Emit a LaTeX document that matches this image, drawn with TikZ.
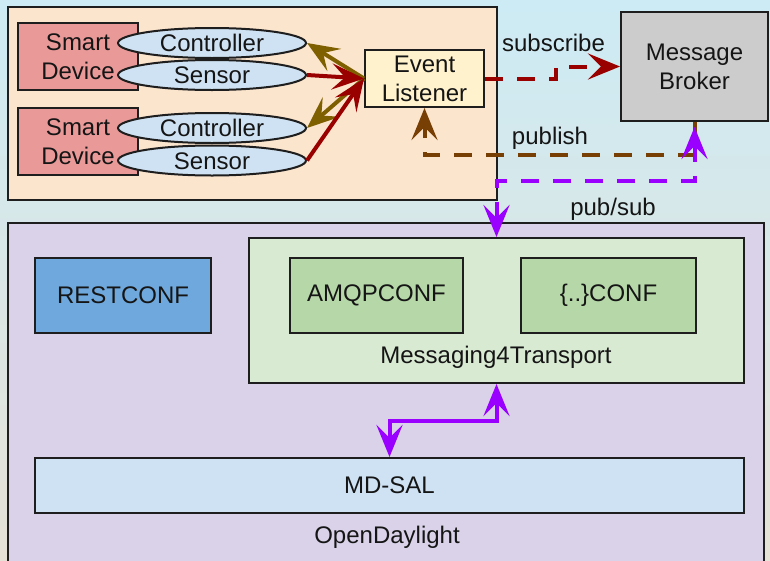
\documentclass[tikz,border=0pt]{standalone}
\usepackage{fontspec}
\setmainfont{Liberation Sans}
\usetikzlibrary{arrows.meta,shapes.geometric}
\definecolor{bgtop}{HTML}{CDEBF5}
\definecolor{bgbot}{HTML}{E6E2D6}
\definecolor{peach}{HTML}{FCE5CD}
\definecolor{sdred}{HTML}{EA9999}
\definecolor{ellblue}{HTML}{CFE2F3}
\definecolor{elyellow}{HTML}{FFF2CC}
\definecolor{mbgray}{HTML}{CCCCCC}
\definecolor{odlc}{HTML}{D9D2E9}
\definecolor{restc}{HTML}{6FA8DC}
\definecolor{m4tc}{HTML}{D9EAD3}
\definecolor{confc}{HTML}{B6D7A8}
\definecolor{mdsalc}{HTML}{CFE2F3}
\definecolor{redc}{HTML}{990000}
\definecolor{olivec}{HTML}{7F6000}
\definecolor{brownc}{HTML}{783F04}
\definecolor{purplec}{HTML}{9900FF}
\definecolor{linec}{HTML}{1E1E1E}
\definecolor{textc}{HTML}{151515}
\begin{document}
\begin{tikzpicture}[x=1pt,y=-1pt,
  font=\fontsize{24}{29}\selectfont,
  box/.style={draw=linec, line width=2pt, inner sep=0pt, align=center, text=textc},
  ell/.style={draw=linec, line width=2pt, ellipse, fill=ellblue, inner sep=0pt,
    minimum width=188pt, minimum height=30pt, text height=17pt, text depth=0pt, text=textc},
  lbl/.style={inner sep=0pt, text=textc},
  conn/.style={line width=4pt},
  tipend/.style={-{Stealth[length=32pt 0 0,width=26pt 0 0,inset=13pt 0 0]}},
  tipboth/.style={{Stealth[length=32pt 0 0,width=26pt 0 0,inset=13pt 0 0]}-{Stealth[length=32pt 0 0,width=26pt 0 0,inset=13pt 0 0]}},
  dsh/.style={dash pattern=on 18pt off 14pt}
]
\useasboundingbox (0,0) rectangle (770,560);
\shade[top color=bgtop, bottom color=bgbot] (0,0) rectangle (770,560);

% top area
\node[box, fill=peach, minimum width=489pt, minimum height=193pt] (top) at (252.5,103.5) {};
\node[box, fill=sdred, minimum width=120pt, minimum height=67pt] (sd1) at (78,56.5) {Smart\\Device};
\node[box, fill=sdred, minimum width=120pt, minimum height=67pt] (sd2) at (78,141.5) {Smart\\Device};
\node[ell] (c1) at (212,43) {Controller};
\node[ell] (s1) at (212,75) {Sensor};
\node[ell] (c2) at (212,128) {Controller};
\node[ell] (s2) at (212,160.5) {Sensor};
\node[box, fill=elyellow, minimum width=119pt, minimum height=57pt] (el) at (424.5,78.5) {Event\\Listener};
\node[box, fill=mbgray, minimum width=147pt, minimum height=109pt] (mb) at (694.5,66.5) {Message\\Broker};

% OpenDaylight
\node[box, fill=odlc, minimum width=756pt, minimum height=367pt] (odl) at (386,406.5) {};
\node[box, fill=restc, minimum width=176pt, minimum height=75pt] (rest) at (123,295.5) {RESTCONF};
\node[box, fill=m4tc, minimum width=495pt, minimum height=145pt] (m4t) at (496.5,310.5) {};
\node[box, fill=confc, minimum width=173pt, minimum height=75pt] (amqp) at (376.5,295.5) {AMQPCONF};
\node[box, fill=confc, minimum width=175pt, minimum height=75pt] (xconf) at (608.5,295.5) {\{..\}CONF};
\node[box, fill=mdsalc, minimum width=709pt, minimum height=55pt] (mdsal) at (389.5,485.5) {MD-SAL};
\node[lbl] (m4tlbl) at (496,357) {Messaging4Transport};
\node[lbl] (odllbl) at (387,537) {OpenDaylight};

% labels
\node[lbl] (lsub) at (553.5,43) {subscribe};
\node[lbl] (lpub) at (550,138) {publish};
\node[lbl] (lps) at (613,209) {pub/sub};

% device connectors
\draw[conn, olivec, tipend] (el.west) -- (c1.east);
\draw[conn, olivec, tipend] (el.west) -- (c2.east);
\draw[conn, redc, tipend] (s1.east) -- (el.west);
\draw[conn, redc, tipend] (s2.east) -- (el.west);

% subscribe
\draw[conn, redc, dsh, tipend] (el.east) -- ++(71,0) |- (mb.west);
% publish
\draw[conn, brownc, dsh, tipend] (mb.south) -- ++(0,33) -| (el.south);
% pub/sub
\draw[conn, purplec, dsh, tipboth, shorten <=5pt] (mb.south) -- ++(0,59) -| (m4t.north);
% m4t <-> mdsal
\draw[conn, purplec, tipboth] (m4t.south) -- ++(0,37) -| (mdsal.north);
\end{tikzpicture}
\end{document}
